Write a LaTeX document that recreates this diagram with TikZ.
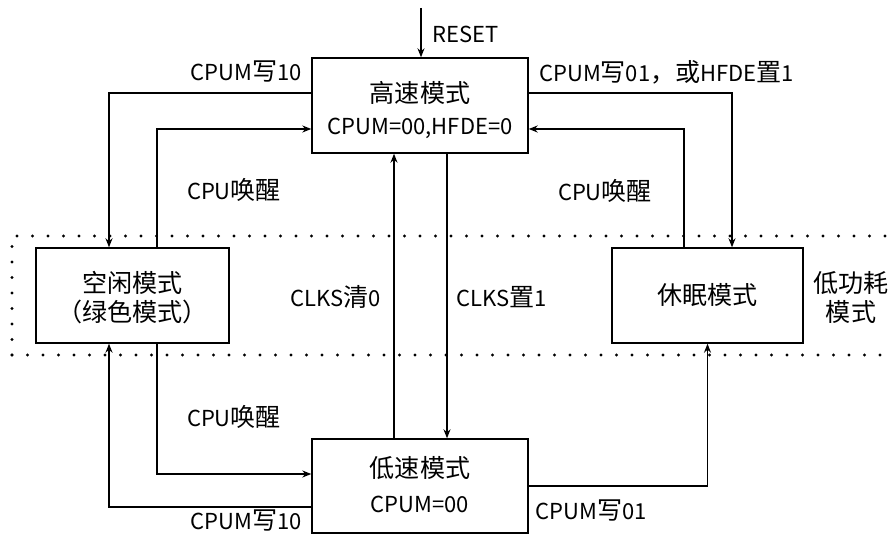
\documentclass[tikz,border=0pt]{standalone}
\usepackage{fontspec}
\setmainfont{Noto Sans CJK SC}
\newfontfamily\zh{Noto Sans CJK SC}[Scale=1.14]
\usetikzlibrary{arrows.meta}
\tikzset{
  box/.style={draw, line width=1.4pt, minimum height=95pt, inner sep=0pt},
  txt/.style={inner sep=0pt},
  arr/.style={line width=1.3pt, -{Stealth[length=9pt,width=7pt]}},
  dotline/.style={line width=3.2pt, line cap=round, dash pattern=on 0pt off 15.5pt},
}
\begin{document}
\begin{tikzpicture}[x=1pt,y=-1pt, every node/.append style={font=\fontsize{22}{26}\selectfont}]
\useasboundingbox (0,0) rectangle (893,534);
% low-power group
\draw[dotline] (12,355) -- (12,236) -- (900,236);
\draw[dotline] (12,355) -- (900,355);
% boxes
\node[box, minimum width=216pt] (high) at (420,105.5) {};
\node[box, minimum width=193pt] (idle) at (132.5,295.5) {};
\node[box, minimum width=191pt] (sleep) at (707.5,295.5) {};
\node[box, minimum width=216pt, minimum height=94pt] (low) at (420,486) {};
% box texts
\node[txt] (hightxt1) at (420,93) {{\zh 高速模式}};
\node[txt] (hightxt2) at (420,128) {CPUM=00,HFDE=0};
\node[txt] (idletxt1) at (132.5,283) {{\zh 空闲模式}};
\node[txt] (idletxt2) at (132.5,312) {{\zh （绿色模式）}};
\node[txt] (sleeptxt) at (707.5,295) {{\zh 休眠模式}};
\node[txt] (lowtxt1) at (420,468) {{\zh 低速模式}};
\node[txt] (lowtxt2) at (420,504) {CPUM=00};
\node[txt] (lp1) at (851,283) {{\zh 低功耗}};
\node[txt] (lp2) at (851,312) {{\zh 模式}};
% reset
\coordinate (reset) at (421,8);
\draw[arr] (reset) -- (reset |- high.north);
\node[txt, anchor=west] (resettxt) at (432,34) {RESET};
% connectors
\draw[arr] ([yshift=12.5pt]high.west) -| ([xshift=-23.5pt]idle.north);
\draw[arr] ([xshift=24.5pt]idle.north) |- ([yshift=-23.5pt]high.west);
\draw[arr] ([yshift=12.5pt]high.east) -| ([xshift=24.5pt]sleep.north);
\draw[arr] ([xshift=-23.5pt]sleep.north) |- ([yshift=-23.5pt]high.east);
\draw[arr] ([xshift=-26pt]low.north) -- ([xshift=-26pt]high.south);
\draw[arr] ([xshift=27pt]high.south) -- ([xshift=27pt]low.north);
\draw[arr] ([xshift=24.5pt]idle.south) |- ([yshift=12pt]low.west);
\draw[arr] ([yshift=-21pt]low.west) -| ([xshift=-23.5pt]idle.south);
\draw[arr] (low.east) -| (sleep.south);
% labels
\node[txt] (l1) at (246,72) {CPUM{\zh 写}10};
\node[txt, anchor=west] (l2) at (539,72) {CPUM{\zh 写}01{\zh ，或}HFDE{\zh 置}1};
\node[txt] (l3) at (234,190) {CPU{\zh 唤醒}};
\node[txt] (l4) at (605,191) {CPU{\zh 唤醒}};
\node[txt] (l5) at (336,297) {CLKS{\zh 清}0};
\node[txt] (l6) at (502,297) {CLKS{\zh 置}1};
\node[txt] (l7) at (234,417) {CPU{\zh 唤醒}};
\node[txt] (l8) at (246,521) {CPUM{\zh 写}10};
\node[txt] (l9) at (591,511) {CPUM{\zh 写}01};
\end{tikzpicture}
\end{document}
